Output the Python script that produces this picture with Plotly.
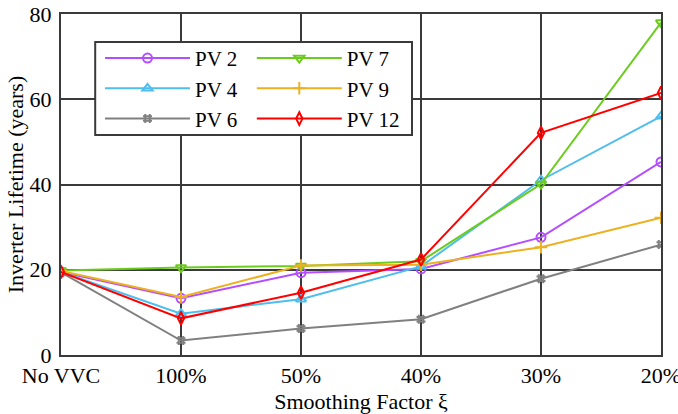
import plotly.graph_objects as go

categories = ["No VVC", "100%", "50%", "40%", "30%", "20%"]
pv2 = [19.5, 13.3, 19.3, 20.2, 27.6, 45.3]
pv4 = [19.5, 9.7, 13.1, 20.8, 41.0, 56.0]
pv6 = [19.4, 3.4, 6.2, 8.4, 17.9, 25.9]
pv7 = [19.8, 20.5, 20.9, 22.0, 40.1, 78.0]
pv9 = [19.7, 13.6, 21.0, 21.2, 25.3, 32.2]
pv12 = [19.5, 8.6, 14.6, 22.4, 52.1, 61.5]

series = [
    ("PV 2", pv2, "#b44dff", "circle-open", "legend"),
    ("PV 4", pv4, "#4dbeee", "triangle-up-open", "legend"),
    ("PV 6", pv6, "#808080", "hash-open", "legend"),
    ("PV 7", pv7, "#6ccc1e", "triangle-down-open", "legend2"),
    ("PV 9", pv9, "#edb120", "cross-thin-open", "legend2"),
    ("PV 12", pv12, "#ff0000", "diamond-tall-open", "legend2"),
]

fig = go.Figure()
for name, vals, color, sym, leg in series:
    fig.add_trace(go.Scatter(
        x=categories, y=vals, name=name, mode="lines+markers",
        line=dict(color=color, width=2),
        marker=dict(symbol=sym, size=9, color=color, line=dict(color=color, width=2)),
        legend=leg,
    ))

font = "Liberation Serif"
axcol = "#3a3a3a"
fs = 22
lfs = 21
fig.update_layout(
    width=678, height=414,
    margin=dict(l=61, r=17, t=14, b=59, autoexpand=False),
    plot_bgcolor="white", paper_bgcolor="white",
    font=dict(family=font, size=fs, color="black"),
    showlegend=True,
    legend=dict(x=0.065, y=0.93, xanchor="left", yanchor="top",
                bgcolor="rgba(0,0,0,0)", font=dict(size=lfs, family=font),
                tracegroupgap=0, itemwidth=85),
    legend2=dict(x=0.318, y=0.93, xanchor="left", yanchor="top",
                 bgcolor="rgba(0,0,0,0)", font=dict(size=lfs, family=font),
                 tracegroupgap=0, itemwidth=85),
    shapes=[dict(type="rect", xref="paper", yref="paper",
                 x0=0.057, x1=0.585, y0=0.645, y1=0.918,
                 fillcolor="white", line=dict(color=axcol, width=2), layer="above")],
)
fig.update_xaxes(
    type="category", range=[0, 5], showgrid=True, gridcolor=axcol, gridwidth=2,
    showline=True, linecolor=axcol, linewidth=2, mirror=True, ticks="",
    automargin=False, ticklabelstandoff=0, ticklabeloverflow="allow",
    title=dict(text="Smoothing Factor ξ", font=dict(size=fs, family=font), standoff=6),
    tickfont=dict(size=fs, family=font),
)
fig.update_yaxes(
    range=[0, 80], dtick=20, showgrid=True, gridcolor=axcol, gridwidth=2,
    showline=True, linecolor=axcol, linewidth=2, mirror=True, ticks="",
    zeroline=False, automargin=False, ticklabelstandoff=3, ticklabeloverflow="allow",
    title=dict(text="Inverter Lifetime (years)", font=dict(size=fs, family=font), standoff=0),
    tickfont=dict(size=fs, family=font),
)
fig.write_html("out.html", config={"displayModeBar": False},
               post_script="document.body.style.margin='0';")
